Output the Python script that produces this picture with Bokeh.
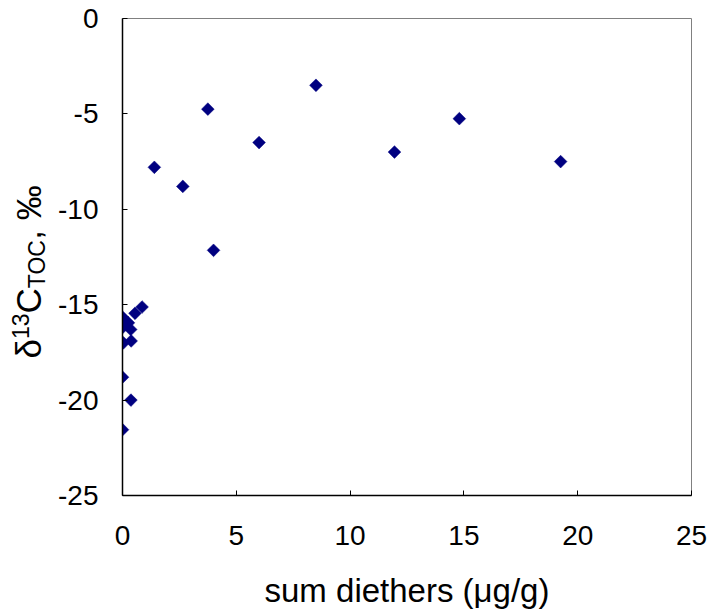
import numpy as np
from bokeh.plotting import figure
from bokeh.layouts import row
from bokeh.models import Range1d, FixedTicker
from bokeh.core.properties import value
from bokeh.embed import file_html
from bokeh.resources import INLINE

# data
sum_diethers = [8.5, 3.75, 14.8, 6.0, 11.95, 19.25, 1.4, 2.65, 4.0,
                0.86, 0.55, 0.0, 0.26, 0.0, 0.36, 0.04, 0.38, 0.0, 0.37, 0.0]
d13c_toc = [-3.5, -4.75, -5.25, -6.5, -7.0, -7.5, -7.8, -8.8, -12.15,
            -15.12, -15.45, -15.65, -15.95, -16.2, -16.3, -17.0, -16.9, -18.8, -20.0, -21.55]
x_ticks = [0, 5, 10, 15, 20, 25]
y_ticks = [-25, -20, -15, -10, -5, 0]

FONT = "Liberation Sans"
W, H = 709, 611
TW = 50                          # width of the strip holding the y title
L, R, T, B = 122, 691, 18, 495   # frame edges in page pixels

# ---- strip with the rotated y-axis title: δ, superscript 13, C, subscript TOC, ", ‰"
# its frame is aligned with the main frame (rows align frames), so map page pixels 1:1
t = figure(width=TW, height=H, output_backend="svg", toolbar_location=None,
           x_range=Range1d(0, TW), y_range=Range1d(H - B, H - T),
           x_axis_type=None, y_axis_type=None,
           min_border_left=0, min_border_right=0, min_border_top=T, min_border_bottom=H - B)
t.outline_line_color = None
t.xgrid.visible = False
t.ygrid.visible = False
t.background_fill_color = "white"
t.border_fill_color = "white"

MAIN, SUB = 35, 23
MID = 0.3465   # distance from box middle to alphabetic baseline, in em
# (text, baseline x in px, font size px, advance width in em)
pieces = [("\u03b4", 40, MAIN, 0.556), ("13", 28, SUB, 1.112), ("C", 40, MAIN, 0.722),
          ("TOC", 44, SUB, 2.111), (", \u2030", 40, MAIN, 1.556)]
start = 358.0
for txt, bx, fs, adv in pieces:
    t.text(x=[bx - MID * fs], y=[H - start], text=[txt], angle=np.pi / 2,
           text_font=value(FONT), text_font_size=value(f"{fs}px"), text_color="black",
           text_align=value("left"), text_baseline=value("middle"))
    start -= fs * adv

# ---- main scatter plot
p = figure(width=W - TW, height=H, output_backend="svg", toolbar_location=None,
           x_range=Range1d(0, 25), y_range=Range1d(-25, 0),
           min_border_left=L - TW, min_border_right=W - R, min_border_top=T, min_border_bottom=H - B)
p.background_fill_color = "white"
p.border_fill_color = "white"
p.outline_line_color = "#808080"
p.outline_line_width = 1
p.xgrid.visible = False
p.ygrid.visible = False

for ax, ticks in ((p.xaxis[0], x_ticks), (p.yaxis[0], y_ticks)):
    ax.ticker = FixedTicker(ticks=ticks)
    ax.major_label_overrides = {tk: str(tk) for tk in ticks}
    ax.minor_tick_line_color = None
    ax.major_tick_in = 5
    ax.major_tick_out = 0
    ax.major_tick_line_color = "black"
    ax.axis_line_color = "black"
    ax.axis_line_width = 1.5
    ax.major_label_text_font = FONT
    ax.major_label_text_font_size = "28px"
    ax.major_label_text_color = "black"

p.xaxis[0].major_label_standoff = 30
p.yaxis[0].major_label_standoff = 24
p.xaxis[0].axis_label = "sum diethers (\u03bcg/g)"
p.xaxis[0].axis_label_text_font = FONT
p.xaxis[0].axis_label_text_font_size = "33px"
p.xaxis[0].axis_label_text_font_style = "normal"
p.xaxis[0].axis_label_text_color = "black"
p.xaxis[0].axis_label_standoff = 24

p.scatter(sum_diethers, d13c_toc, marker="square", angle=np.pi / 4, size=9,
          fill_color="#000080", line_color="#000080", line_width=0.5)

layout = row(t, p, spacing=0)
open("out.html", "w").write(file_html(layout, INLINE))
